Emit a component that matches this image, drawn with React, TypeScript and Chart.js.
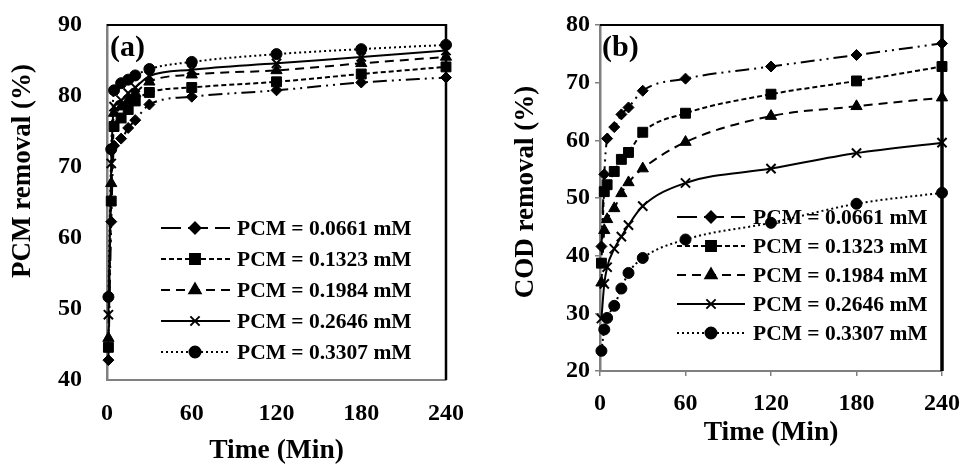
import React, { useEffect, useRef } from 'react';
import { Chart, registerables } from 'chart.js';
import { drawPoint } from 'chart.js/helpers';

Chart.register(...registerables);

// ---- Data ----
const TIME_MIN = [1, 3, 5, 10, 15, 20, 30, 60, 120, 180, 240];
const X_TICKS = [0, 60, 120, 180, 240];
const SERIES_LABELS = [
  'PCM = 0.0661 mM',
  'PCM = 0.1323 mM',
  'PCM = 0.1984 mM',
  'PCM = 0.2646 mM',
  'PCM = 0.3307 mM',
];

// Panel (a): PCM removal (%)
const PCM_0661 = [42.8, 62.3, 73.0, 74.0, 75.5, 76.6, 78.8, 79.9, 80.8, 81.9, 82.6];
const PCM_1323 = [44.6, 65.2, 75.7, 76.9, 78.1, 79.3, 80.5, 81.2, 82.0, 83.1, 84.1];
const PCM_1984 = [45.9, 67.7, 77.6, 78.5, 79.4, 80.4, 82.0, 83.0, 83.6, 84.6, 85.5];
const PCM_2646 = [49.2, 70.5, 78.5, 79.4, 80.4, 81.2, 82.8, 83.7, 84.6, 85.5, 86.4];
const PCM_3307 = [51.7, 72.5, 80.8, 81.8, 82.3, 82.9, 83.8, 84.8, 85.9, 86.6, 87.2];

// Panel (b): COD removal (%)
const COD_0661 = [41.6, 54.1, 60.3, 62.3, 64.5, 65.7, 68.6, 70.7, 72.8, 74.8, 76.8];
const COD_1323 = [38.7, 51.1, 52.3, 54.6, 56.7, 57.9, 61.4, 64.7, 68.0, 70.3, 72.8];
const COD_1984 = [35.3, 44.4, 46.3, 48.2, 50.8, 52.7, 55.1, 59.7, 64.2, 65.9, 67.4];
const COD_2646 = [29.1, 35.1, 38.0, 41.2, 43.3, 45.3, 48.6, 52.6, 55.1, 57.8, 59.6];
const COD_3307 = [23.5, 27.2, 29.2, 31.3, 34.3, 37.0, 39.6, 42.8, 45.7, 49.0, 50.9];

// ---- Styles ----
const FONT = "'Liberation Serif', 'Times New Roman', serif";
const POINT_STYLES = ['rectRot', 'rect', 'triangle', 'crossRot', 'circle'];
const POINT_RADII = [5.5, 7, 6.5, 6.5, 5.5];
const DASHES = [[14, 5, 2, 5, 2, 5], [5, 3], [9, 6], [], [2, 3]];
const LEGEND_DASHES = [[20, 7], [5, 3], [9, 6], [], [2, 3]];

type PanelCfg = {
  series: number[][];
  yMin: number;
  yMax: number;
  yTitle: string;
  yTitleX: number;
  yTitleY: number;
  tag: string;
  tagX: number;
  padRight: number;
  yAxisWidth: number;
  xAxisHeight: number;
  showTicks: boolean;
  xTickPad: number;
  yTickPad: number;
  xTitlePad: number;
  rightBorder: number;
  legend: { x1: number; x2: number; mx: number; tx: number; y0: number; step: number };
};

const decorPlugin = {
  id: 'decor',
  afterDraw(chart: any, _args: any, opts: any) {
    const ctx = chart.ctx;
    const a = chart.chartArea;
    ctx.save();
    // top & right frame
    ctx.strokeStyle = '#000';
    ctx.lineWidth = 2;
    ctx.beginPath();
    ctx.moveTo(a.left, a.top);
    ctx.lineTo(a.right, a.top);
    ctx.stroke();
    ctx.lineWidth = opts.rightBorder;
    ctx.beginPath();
    ctx.moveTo(a.right, a.top - 1);
    ctx.lineTo(a.right, a.bottom);
    ctx.stroke();

    // panel tag
    ctx.fillStyle = '#000';
    ctx.font = `bold 30px ${FONT}`;
    ctx.textAlign = 'left';
    ctx.textBaseline = 'middle';
    ctx.fillText(opts.tag, opts.tagX, 48);

    // y title
    ctx.save();
    ctx.translate(opts.yTitleX, opts.yTitleY);
    ctx.rotate(-Math.PI / 2);
    ctx.font = `bold 27px ${FONT}`;
    ctx.textAlign = 'center';
    ctx.textBaseline = 'middle';
    ctx.fillText(opts.yTitle, 0, 0);
    ctx.restore();

    // legend
    const L = opts.legend;
    chart.data.datasets.forEach((ds: any, i: number) => {
      const y = L.y0 + i * L.step;
      ctx.save();
      ctx.strokeStyle = '#000';
      ctx.lineWidth = 2;
      ctx.setLineDash(LEGEND_DASHES[i]);
      ctx.beginPath();
      ctx.moveTo(L.x1, y);
      ctx.lineTo(L.x2, y);
      ctx.stroke();
      ctx.restore();
      ctx.save();
      ctx.fillStyle = '#000';
      ctx.strokeStyle = '#000';
      ctx.lineWidth = 2;
      ctx.setLineDash([]);
      drawPoint(ctx, { pointStyle: ds.pointStyle, radius: ds.pointRadius, rotation: 0, borderWidth: 2 }, L.mx, y);
      ctx.restore();
      ctx.fillStyle = '#000';
      ctx.font = `bold 21.5px ${FONT}`;
      ctx.textAlign = 'left';
      ctx.textBaseline = 'middle';
      ctx.fillText(ds.label, L.tx, y + 1);
    });
    ctx.restore();
  },
};

function Panel({ cfg, left }: { cfg: PanelCfg; left: number }) {
  const ref = useRef<HTMLCanvasElement | null>(null);
  useEffect(() => {
    if (!ref.current) return;
    const datasets = cfg.series.map((vals, i) => ({
      label: SERIES_LABELS[i],
      data: TIME_MIN.map((t, j) => ({ x: t, y: vals[j] })),
      borderColor: '#000',
      backgroundColor: '#000',
      borderWidth: 2,
      borderDash: DASHES[i],
      pointStyle: POINT_STYLES[i],
      pointRadius: POINT_RADII[i],
      pointBorderWidth: POINT_STYLES[i] === 'crossRot' ? 2 : 1,
      pointBackgroundColor: '#000',
      pointBorderColor: '#000',
      cubicInterpolationMode: 'monotone',
      clip: false,
    }));
    const tickFont = { family: FONT, size: 24, weight: 'bold' as const };
    const chart = new Chart(ref.current, {
      type: 'line',
      data: { datasets },
      plugins: [decorPlugin],
      options: {
        responsive: false,
        animation: false,
        events: [],
        layout: { padding: { left: 0, top: 25, right: cfg.padRight, bottom: 0 } },
        plugins: {
          legend: { display: false },
          tooltip: { enabled: false },
          decor: {
            tag: cfg.tag,
            tagX: cfg.tagX,
            yTitle: cfg.yTitle,
            yTitleX: cfg.yTitleX,
            yTitleY: cfg.yTitleY,
            rightBorder: cfg.rightBorder,
            legend: cfg.legend,
          },
        } as any,
        scales: {
          x: {
            type: 'linear',
            min: 0,
            max: 240,
            afterBuildTicks: (s: any) => {
              s.ticks = X_TICKS.map((v) => ({ value: v }));
            },
            afterFit: (s: any) => {
              s.height = cfg.xAxisHeight;
              s.paddingLeft = 0;
              s.paddingRight = 0;
            },
            ticks: { font: tickFont, color: '#000', padding: cfg.xTickPad, maxRotation: 0, autoSkip: false },
            grid: {
              display: cfg.showTicks,
              drawOnChartArea: false,
              drawTicks: cfg.showTicks,
              tickLength: 5,
              color: '#808080',
              lineWidth: 1.5,
            },
            border: { color: '#808080', width: 2 },
            title: {
              display: true,
              text: 'Time (Min)',
              color: '#000',
              font: { family: FONT, size: 27.5, weight: 'bold', lineHeight: 1 },
              padding: { top: 0, bottom: cfg.xTitlePad },
            },
          },
          y: {
            type: 'linear',
            min: cfg.yMin,
            max: cfg.yMax,
            afterFit: (s: any) => {
              s.width = cfg.yAxisWidth;
              s.paddingTop = 0;
              s.paddingBottom = 0;
            },
            ticks: { font: tickFont, color: '#000', padding: cfg.yTickPad, stepSize: 10 },
            grid: {
              display: cfg.showTicks,
              drawOnChartArea: false,
              drawTicks: cfg.showTicks,
              tickLength: 5,
              color: '#808080',
              lineWidth: 1.5,
            },
            border: { color: '#808080', width: 2.5 },
          },
        },
      } as any,
    });
    return () => chart.destroy();
  }, [cfg]);
  return (
    <div style={{ position: 'absolute', left, top: 0, width: 481, height: 465 }}>
      <canvas ref={ref} width={481} height={465} style={{ width: 481, height: 465, display: 'block' }} />
    </div>
  );
}

const PANEL_A: PanelCfg = {
  series: [PCM_0661, PCM_1323, PCM_1984, PCM_2646, PCM_3307],
  yMin: 40,
  yMax: 90,
  yTitle: 'PCM removal (%)',
  yTitleX: 23,
  yTitleY: 171,
  tag: '(a)',
  tagX: 110,
  padRight: 35,
  yAxisWidth: 107,
  xAxisHeight: 85,
  showTicks: false,
  xTickPad: 19,
  yTickPad: 25,
  xTitlePad: 0,
  rightBorder: 2.5,
  legend: { x1: 161, x2: 230, mx: 195, tx: 237, y0: 228, step: 31 },
};

const PANEL_B: PanelCfg = {
  series: [COD_0661, COD_1323, COD_1984, COD_2646, COD_3307],
  yMin: 20,
  yMax: 80,
  yTitle: 'COD removal (%)',
  yTitleX: 45,
  yTitleY: 192,
  tag: '(b)',
  tagX: 121,
  padRight: 20,
  yAxisWidth: 119,
  xAxisHeight: 94,
  showTicks: true,
  xTickPad: 13,
  yTickPad: 5,
  xTitlePad: 18,
  rightBorder: 3.5,
  legend: { x1: 196, x2: 264, mx: 230, tx: 272, y0: 217, step: 29 },
};

export default function App() {
  return (
    <div style={{ position: 'fixed', left: 0, top: 0, width: 962, height: 465, background: '#fff', overflow: 'hidden' }}>
      <Panel cfg={PANEL_A} left={0} />
      <Panel cfg={PANEL_B} left={481} />
    </div>
  );
}
